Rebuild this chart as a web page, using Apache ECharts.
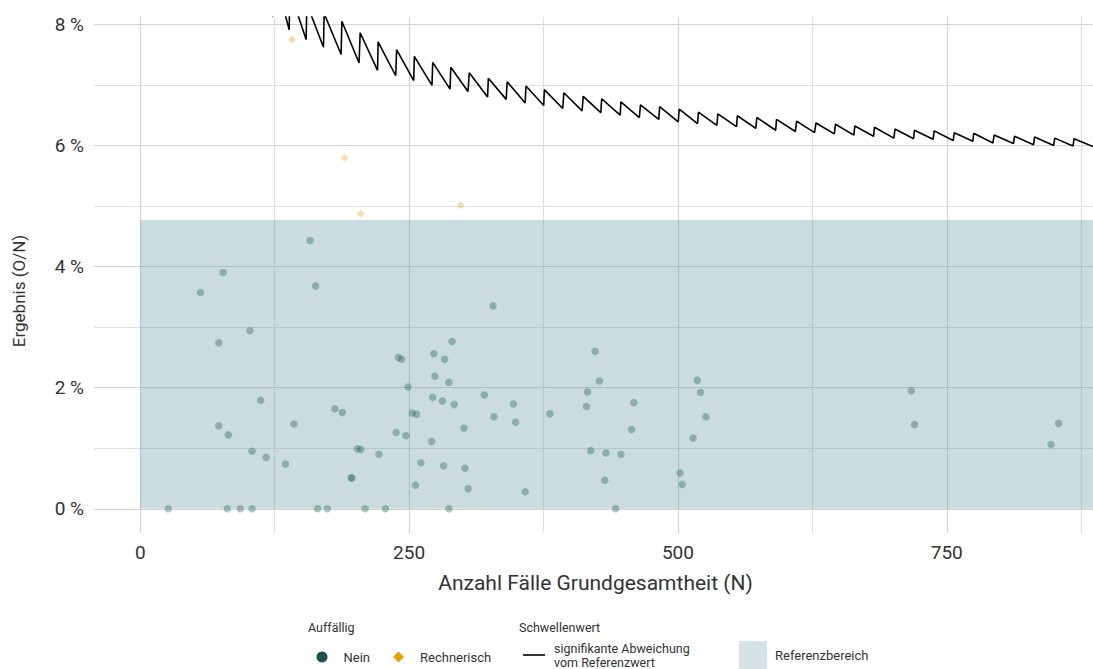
<!DOCTYPE html>
<html>
<head>
<meta charset="utf-8">
<title>Ergebnis nach Anzahl Fälle</title>
<script src="https://cdn.jsdelivr.net/npm/echarts@6/dist/echarts.min.js"></script>
<style>
  html, body { margin: 0; padding: 0; background: #ffffff; }
  #chart { width: 1093px; height: 669px; }
</style>
</head>
<body>
<div id="chart"></div>
<script>
// Axis ranges and gridline positions
const X_MIN = -43, X_MAX = 886;
const Y_MIN = -0.40, Y_MAX = 8.12;
const X_GRID = [0, 125, 250, 375, 500, 625, 750, 875];
const X_TICKS = [0, 250, 500, 750];
const Y_GRID = [0, 1, 2, 3, 4, 5, 6, 7, 8];
const Y_TICKS = [0, 2, 4, 6, 8];

// Reference range (percent)
const REF_LOW = 0, REF_HIGH = 4.77;

// Not conspicuous ("Nein"): case count N and result in percent
const NEIN_N = [158, 77, 56, 163, 102, 73, 112, 73, 82, 143, 181, 188, 104, 117, 135, 202, 205, 196, 197, 222,
  26, 81, 93, 104, 165, 174, 209, 228, 287, 442,
  328, 290, 240, 243, 273, 283, 274, 287, 249, 272, 281, 292, 320, 347, 253, 257, 329, 349, 381, 301,
  238, 247, 271, 261, 282, 302, 256, 305, 358,
  423, 427, 416, 415, 459, 457, 419, 433, 447, 432,
  518, 521, 526, 514, 502, 504, 717, 720, 854, 847];
const NEIN_RATE = [4.43, 3.90, 3.57, 3.68, 2.94, 2.74, 1.79, 1.37, 1.22, 1.40, 1.65, 1.59, 0.95, 0.85, 0.74, 0.99, 0.98, 0.51, 0.51, 0.90,
  0, 0, 0, 0, 0, 0, 0, 0, 0, 0,
  3.35, 2.76, 2.50, 2.47, 2.56, 2.47, 2.19, 2.09, 2.01, 1.84, 1.78, 1.72, 1.88, 1.73, 1.58, 1.56, 1.52, 1.43, 1.57, 1.33,
  1.26, 1.21, 1.11, 0.76, 0.71, 0.67, 0.39, 0.33, 0.28,
  2.60, 2.11, 1.93, 1.69, 1.75, 1.31, 0.96, 0.92, 0.90, 0.47,
  2.12, 1.92, 1.52, 1.17, 0.59, 0.40, 1.95, 1.39, 1.41, 1.06];

// Arithmetically conspicuous ("Rechnerisch")
const RECH_N = [141, 190, 205, 298];
const RECH_RATE = [7.75, 5.79, 4.87, 5.01];

// Threshold for a significant deviation from the reference value
const THRESH_N = [107, 123.1, 123.7, 138.5, 139.1, 154.3, 154.9, 170.4, 171.0, 186.8, 187.5, 203.5, 204.5,
  220.7, 221.2, 237.6, 238.4, 254.3, 254.9, 271.3, 272.0, 288.1, 288.8, 304.8, 306.0, 323.0, 323.7,
  340.3, 341.2, 358.0, 358.7, 375.2, 375.8, 392.9, 393.9, 410.9, 411.9, 428.3, 429.1, 446.3, 447.0,
  464.1, 465.2, 482.2, 483.0, 500.3, 501.2, 518.3, 519.1, 536.2, 537.1, 554.5, 555.3, 572.4, 573.4,
  590.9, 591.7, 609.2, 610.4, 627.0, 628.4, 645.4, 646.5, 663.6, 664.5, 681.9, 682.8, 700.8, 701.9,
  719.2, 719.9, 737.3, 738.3, 756.0, 757.0, 774.3, 775.0, 793.0, 794.0, 812.0, 813.0, 830.7, 831.7,
  849.4, 850.4, 867.4, 868.4, 886.0];
const THRESH_RATE = [9.20, 8.13, 8.90, 7.91, 8.55, 7.75, 8.34, 7.62, 8.18, 7.50, 8.05, 7.36, 7.86,
  7.24, 7.71, 7.15, 7.58, 7.07, 7.47, 6.99, 7.37, 6.93, 7.29, 6.89, 7.20, 6.80, 7.11,
  6.76, 7.05, 6.70, 6.98, 6.66, 6.92, 6.61, 6.87, 6.57, 6.81, 6.54, 6.77, 6.50, 6.72,
  6.46, 6.67, 6.43, 6.64, 6.39, 6.60, 6.36, 6.55, 6.33, 6.52, 6.31, 6.49, 6.28, 6.46,
  6.25, 6.43, 6.23, 6.40, 6.21, 6.37, 6.19, 6.35, 6.17, 6.32, 6.15, 6.30, 6.12, 6.27,
  6.11, 6.25, 6.10, 6.24, 6.08, 6.21, 6.07, 6.20, 6.04, 6.17, 6.03, 6.15, 6.01, 6.14,
  6.00, 6.12, 5.99, 6.11, 5.98];

const THRESH_NAME = 'signifikante Abweichung vom Referenzwert';
const FONT = 'Roboto, "Noto Sans", sans-serif';
const TEXT = '#333333';
const GRID_MAJOR = '#d3d3d3';
const GRID_MINOR = '#e0e0e0';
const BAND = 'rgba(95,150,158,0.33)';

const pairs = (xs, ys) => xs.map((x, i) => [x, ys[i]]);

const chart = echarts.init(document.getElementById('chart'), null, { renderer: 'svg' });

chart.setOption({
  animation: false,
  backgroundColor: '#ffffff',
  textStyle: { fontFamily: FONT },
  grid: { left: 94, right: 0, top: 17, bottom: 136, containLabel: false },
  xAxis: {
    type: 'value',
    min: X_MIN,
    max: X_MAX,
    name: 'Anzahl Fälle Grundgesamtheit (N)',
    nameLocation: 'middle',
    nameGap: 39,
    nameTextStyle: { fontSize: 21, color: TEXT, fontFamily: FONT, padding: [0, 0, 0, 4] },
    axisLine: { show: false },
    axisTick: { show: false, customValues: X_GRID },
    axisLabel: { customValues: X_TICKS, fontSize: 19, color: TEXT, margin: 10, fontFamily: FONT },
    splitLine: { show: true, lineStyle: { color: [GRID_MAJOR, GRID_MINOR], width: 1.2 } }
  },
  yAxis: {
    type: 'value',
    min: Y_MIN,
    max: Y_MAX,
    name: 'Ergebnis (O/N)',
    nameLocation: 'middle',
    nameGap: 67,
    nameTextStyle: { fontSize: 17, color: TEXT, fontFamily: FONT, padding: [0, 32, 0, 0] },
    axisLine: { show: false },
    axisTick: { show: false, customValues: Y_GRID },
    axisLabel: { customValues: Y_TICKS, fontSize: 19, color: TEXT, margin: 10, fontFamily: FONT,
      formatter: v => v + ' %' },
    splitLine: { show: true, lineStyle: { color: [GRID_MAJOR, GRID_MINOR], width: 1.2 } }
  },
  legend: [
    {
      data: [
        { name: 'Nein', icon: 'circle', itemStyle: { color: '#1d524d', opacity: 1 } },
        { name: 'Rechnerisch', icon: 'path://M0,-5L5,0L0,5L-5,0Z', itemStyle: { color: '#e69f00', opacity: 1 } }
      ],
      left: 316.5, top: 650.5, padding: 0, itemWidth: 11, itemHeight: 11, itemGap: 23,
      selectedMode: false,
      textStyle: { fontSize: 13, color: TEXT, fontFamily: FONT, padding: [0, 0, 0, 11] }
    },
    {
      data: [{ name: THRESH_NAME, icon: 'path://M0,0L22,0L22,1.6L0,1.6Z', itemStyle: { color: '#000000' } }],
      left: 523, top: 641, padding: 0, itemWidth: 22, itemHeight: 28,
      selectedMode: false,
      formatter: () => 'signifikante Abweichung\nvom Referenzwert',
      textStyle: { fontSize: 12.5, lineHeight: 14, color: TEXT, fontFamily: FONT, padding: [0, 0, 0, 4] }
    },
    {
      data: [{ name: 'Referenzbereich', icon: 'rect', itemStyle: { color: BAND } }],
      left: 739, top: 641, padding: 0, itemWidth: 28, itemHeight: 28,
      selectedMode: false,
      textStyle: { fontSize: 13, color: TEXT, fontFamily: FONT, padding: [0, 0, 0, 3] }
    }
  ],
  graphic: [
    { type: 'text', left: 308, top: 621, style: { text: 'Auffällig', fontSize: 12.5, fill: TEXT, fontFamily: FONT } },
    { type: 'text', left: 519, top: 621, style: { text: 'Schwellenwert', fontSize: 12.5, fill: TEXT, fontFamily: FONT } }
  ],
  series: [
    {
      name: 'Referenzbereich',
      type: 'scatter',
      data: [],
      z: 1,
      itemStyle: { color: BAND },
      markArea: {
        silent: true,
        itemStyle: { color: BAND, borderWidth: 0 },
        data: [[{ coord: [REF_LOW, REF_LOW] }, { coord: [X_MAX, REF_HIGH] }]]
      }
    },
    {
      name: 'Nein',
      type: 'scatter',
      z: 3,
      symbol: 'circle',
      symbolSize: 7.5,
      itemStyle: { color: 'rgba(27,94,87,0.45)' },
      data: pairs(NEIN_N, NEIN_RATE)
    },
    {
      name: 'Rechnerisch',
      type: 'scatter',
      z: 3,
      symbol: 'diamond',
      symbolSize: 8,
      itemStyle: { color: 'rgba(230,159,0,0.4)' },
      data: pairs(RECH_N, RECH_RATE)
    },
    {
      name: THRESH_NAME,
      type: 'line',
      z: 4,
      symbol: 'none',
      clip: true,
      lineStyle: { color: '#000000', width: 1.6 },
      itemStyle: { color: '#000000' },
      data: pairs(THRESH_N, THRESH_RATE)
    }
  ]
});
</script>
</body>
</html>
